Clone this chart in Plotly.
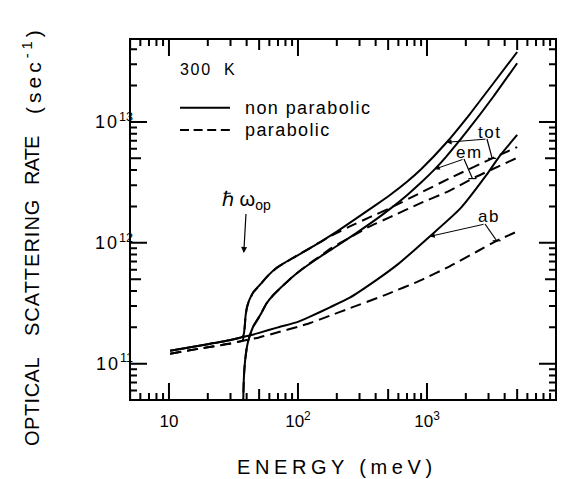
import numpy as np
import plotly.graph_objects as go

# ---------------- data (E in meV, rate in 1/s) ----------------
HW_OP = 38.0  # optical phonon energy (meV)

# non-parabolic band (solid)
np_tot_E = [10.2, 20, 30, 35.5, 37.3, 38.0, 38.6, 39.2, 40.0, 41.0, 42.4, 45, 50.7, 58, 68, 80, 98,
            125, 150, 200, 285, 400, 520, 700, 900, 1400, 2150, 3250, 5000]
np_tot_R = [1.28e11, 1.45e11, 1.57e11, 1.64e11, 1.67e11, 1.75e11, 2.0e11, 2.45e11, 2.85e11, 3.15e11,
            3.45e11, 3.9e11, 4.5e11, 5.3e11, 6.2e11, 6.9e11, 7.8e11, 9.1e11, 1.02e12, 1.24e12,
            1.6e12, 2.05e12, 2.5e12, 3.2e12, 4.06e12, 6.66e12, 1.163e13, 2.07e13, 3.79e13]

np_em_E = [37.3, 37.8, 38.2, 39, 40, 41, 42.4, 45, 50.7, 57, 64.4, 77, 92, 116, 157, 200, 285, 400,
           517, 700, 900, 1150, 1400, 2030, 3265, 5000]
np_em_R = [3.0e10, 6.0e10, 8.2e10, 1.08e11, 1.33e11, 1.52e11, 1.72e11, 2.03e11, 2.5e11, 3.15e11,
           3.7e11, 4.45e11, 5.3e11, 6.4e11, 7.98e11, 9.41e11, 1.21e12, 1.555e12, 1.91e12, 2.48e12,
           3.15e12, 4.07e12, 5.12e12, 8.3e12, 1.615e13, 3.06e13]

np_ab_E = [10.2, 20, 30, 35.5, 37.3, 42, 50, 70, 100, 124, 177, 250, 407, 600, 1050, 1800, 3000,
           3680, 5000]
np_ab_R = [1.28e11, 1.45e11, 1.57e11, 1.64e11, 1.67e11, 1.71e11, 1.8e11, 2.0e11, 2.22e11, 2.45e11,
           2.93e11, 3.5e11, 4.94e11, 6.7e11, 1.13e12, 1.91e12, 3.85e12, 5.26e12, 7.8e12]

# parabolic band (dashed)
p_tot_E = [10.2, 20, 30, 35.5, 37.3, 38.0, 38.6, 39.2, 40.0, 41.0, 42.4, 45, 50.7, 58, 68, 80, 98,
           125, 177, 250, 361, 517, 883, 1507, 3000, 5000]
p_tot_R = [1.21e11, 1.37e11, 1.47e11, 1.53e11, 1.56e11, 1.72e11, 1.98e11, 2.43e11, 2.83e11, 3.13e11,
           3.43e11, 3.88e11, 4.48e11, 5.28e11, 6.18e11, 6.9e11, 7.85e11, 9.1e11, 1.13e12, 1.36e12,
           1.63e12, 1.94e12, 2.58e12, 3.43e12, 4.84e12, 6.2e12]

p_em_E = [37.3, 37.8, 38.2, 39, 40, 41, 42.4, 45, 50.7, 57, 64.4, 77, 92, 116, 157, 177, 250, 361,
          517, 883, 1500, 2250, 5000]
p_em_R = [3.0e10, 6.0e10, 8.2e10, 1.08e11, 1.33e11, 1.52e11, 1.72e11, 2.03e11, 2.5e11, 3.15e11,
          3.7e11, 4.45e11, 5.3e11, 6.45e11, 8.1e11, 8.9e11, 1.1e12, 1.37e12, 1.63e12, 2.12e12,
          2.7e12, 3.4e12, 5.05e12]

p_ab_E = [10.2, 20, 30, 35.5, 50, 70, 100, 124, 177, 253, 488, 910, 1500, 2500, 3470, 5000]
p_ab_R = [1.21e11, 1.37e11, 1.47e11, 1.53e11, 1.65e11, 1.82e11, 2.02e11, 2.17e11, 2.5e11, 2.88e11,
          3.75e11, 4.94e11, 6.4e11, 8.6e11, 1.04e12, 1.24e12]

# tick labels
X_TICKS = [10, 100, 1000, 10000]
X_TICKTEXT = ["10", "10<sup>2</sup>", "10<sup>3</sup>", "10<sup>4</sup>"]
Y_TICKS = [1e11, 1e12, 1e13]
Y_TICKTEXT = ['<span style="letter-spacing:2px">10</span><sup>11</sup>',
              '<span style="letter-spacing:2px">10</span><sup>12</sup>',
              '<span style="letter-spacing:2px">10</span><sup>13</sup>']

# leader labels: (text, text px pos, knee px pos, solid curve, E on solid, dashed curve, E on dashed)
LEADERS = [
    ("tot", (489, 132), (487, 139), (np_tot_E, np_tot_R), 1420, (p_tot_E, p_tot_R), 3200),
    ("em", (469, 152), (464, 159), (np_em_E, np_em_R), 1150, (p_em_E, p_em_R), 2250),
    ("ab", (489, 217), (485, 224), (np_ab_E, np_ab_R), 1050, (p_ab_E, p_ab_R), 3470),
]

# ---------------- layout geometry ----------------
W, H = 569, 479
ML, MR, MT, MB = 130, 13, 39, 79
XR = [0.698, 4.0]
YR = [10.70, 13.686]
PW, PH = W - ML - MR, H - MT - MB
FONT = "Liberation Sans, Arial, Helvetica, sans-serif"
BLACK = "black"
DX = (XR[1] - XR[0]) / PW   # decades per pixel
DY = (YR[1] - YR[0]) / PH


def paper(xpx, ypx):
    return (xpx - ML) / PW, (H - MB - ypx) / PH


def px_to_axis(xpx, ypx):
    return XR[0] + (xpx - ML) * DX, YR[0] + (H - MB - ypx) * DY


def loginterp(E, R, e):
    return float(np.interp(np.log10(e), np.log10(E), np.log10(R)))


def tick_vals(lo, hi, mults, rng):
    v = [m * 10.0 ** k for k in range(lo, hi + 1) for m in mults]
    return [float(t) for t in v if rng[0] - 1e-9 <= np.log10(t) <= rng[1] + 1e-9]


fig = go.Figure()

LW = 2.0
DASH = "11px,6px"
curves = [
    (p_ab_E, p_ab_R, DASH), (p_em_E, p_em_R, DASH), (p_tot_E, p_tot_R, DASH),
    (np_ab_E, np_ab_R, "solid"), (np_em_E, np_em_R, "solid"), (np_tot_E, np_tot_R, "solid"),
]
for E, R, d in curves:
    fig.add_trace(go.Scatter(x=E, y=R, mode="lines",
                             line=dict(color=BLACK, width=LW, dash=d, shape="spline", smoothing=0.5),
                             showlegend=False, hoverinfo="skip"))

ann = []
# leaders tot / em / ab : arrow onto the solid curve, line + bar onto the dashed curve
for text, tpos, knee, solid, e_tip, dashed, e_end in LEADERS:
    tx, ty = paper(*tpos)
    ann.append(dict(xref="paper", yref="paper", x=tx, y=ty, xanchor="center", yanchor="middle",
                    showarrow=False, text='<span style="letter-spacing:1.5px">%s</span>' % text,
                    font=dict(size=17, family=FONT, color=BLACK)))
    kx, ky = px_to_axis(*knee)
    ann.append(dict(xref="x", yref="y", x=float(np.log10(e_tip)), y=loginterp(*solid, e_tip),
                    axref="x", ayref="y", ax=kx, ay=ky, text="", showarrow=True,
                    arrowhead=2, arrowsize=1, arrowwidth=1, arrowcolor=BLACK, standoff=0))
    ly = loginterp(*dashed, e_end)
    lx = float(np.log10(e_end))
    bar = 4 * DX
    fig.add_trace(go.Scatter(x=[10 ** kx, 10 ** lx, None, 10 ** (lx - bar), 10 ** (lx + bar)],
                             y=[10 ** ky, 10 ** ly, None, 10 ** ly, 10 ** ly], mode="lines",
                             line=dict(color=BLACK, width=1.2), showlegend=False,
                             hoverinfo="skip"))

shapes = []
# frame ticks drawn inward on all four sides, one path per tick class (paper coordinates
# obtained from the log scale): decades long, 5x medium, others short
for mults, tlen in [([1], 17), ([5], 11), ([2, 3, 4, 6, 7, 8, 9], 7)]:
    lx_ = tlen / PW
    ly_ = tlen / PH
    segs = []
    for t in tick_vals(0, 4, mults, XR):
        xp = (np.log10(t) - XR[0]) / (XR[1] - XR[0])
        segs.append("M%.5f,%.5fL%.5f,%.5f" % (xp, 0.0, xp, ly_))
        segs.append("M%.5f,%.5fL%.5f,%.5f" % (xp, 1.0, xp, 1 - ly_))
    for t in tick_vals(10, 13, mults, YR):
        yp = (np.log10(t) - YR[0]) / (YR[1] - YR[0])
        segs.append("M%.5f,%.5fL%.5f,%.5f" % (0.0, yp, lx_, yp))
        segs.append("M%.5f,%.5fL%.5f,%.5f" % (1.0, yp, 1 - lx_, yp))
    shapes.append(dict(type="path", xref="paper", yref="paper", path="".join(segs),
                       line=dict(color=BLACK, width=2), layer="above"))

common = dict(type="log", showgrid=False, zeroline=False, showline=False, ticks="",
              fixedrange=True)

fig.update_layout(
    width=W, height=H, template="none",
    margin=dict(l=ML, r=MR, t=MT, b=MB, pad=0, autoexpand=False),
    paper_bgcolor="white", plot_bgcolor="white", showlegend=False,
    font=dict(family=FONT, color=BLACK),
    xaxis=dict(**common, range=XR, tickmode="array", tickvals=X_TICKS, ticktext=X_TICKTEXT,
               ticklabelstandoff=9, tickfont=dict(size=17, family=FONT, color=BLACK)),
    yaxis=dict(**common, range=YR, tickmode="array", tickvals=Y_TICKS, ticktext=Y_TICKTEXT,
               ticklabelstandoff=-4, tickfont=dict(size=18, family=FONT, color=BLACK)),
)

# axis titles
px_, py_ = paper(337, 467)
ann.append(dict(xref="paper", yref="paper", x=px_, y=py_, xanchor="center", yanchor="middle",
                showarrow=False,
                text='<span style="letter-spacing:4.6px">ENERGY\u00a0(meV)</span>',
                font=dict(size=20, family=FONT, color=BLACK)))
for word, ycen, ls in [("OPTICAL", 402, 0.5), ("SCATTERING", 268, 1.0), ("RATE", 161, -0.8),
                       ("(sec<sup>-1</sup>)", 70, 4.0)]:
    px_, py_ = paper(32, ycen)
    ann.append(dict(xref="paper", yref="paper", x=px_, y=py_, xanchor="center", yanchor="middle",
                    showarrow=False, textangle=-90,
                    text='<span style="letter-spacing:%gpx">%s</span>' % (ls, word),
                    font=dict(size=21 if ls > 3 else 20, family=FONT, color=BLACK)))
# 300 K
px_, py_ = paper(208, 69)
ann.append(dict(xref="paper", yref="paper", x=px_, y=py_, xanchor="center", yanchor="middle",
                showarrow=False, text='<span style="letter-spacing:1.7px">300\u00a0\u00a0K</span>',
                font=dict(size=16, family=FONT, color=BLACK)))
# legend texts
for label, ypx in [("non\u00a0parabolic", 107.7), ("parabolic", 130)]:
    px_, py_ = paper(243, ypx)
    ann.append(dict(xref="paper", yref="paper", x=px_, y=py_, xanchor="left", yanchor="middle",
                    showarrow=False, text='<span style="letter-spacing:1.4px">%s</span>' % label,
                    font=dict(size=18, family=FONT, color=BLACK)))
# hbar omega_op arrow
_, py_tip = paper(0, 253)
ann.append(dict(xref="x", yref="paper", x=float(np.log10(HW_OP)), y=py_tip, ax=3, ay=-53,
                text="\u210f\u00a0\u03c9<sub>op</sub>", showarrow=True, arrowhead=2,
                arrowsize=1, arrowwidth=1.2, arrowcolor=BLACK, standoff=0,
                font=dict(size=20, family=FONT, color=BLACK)))

# plot frame
shapes.append(dict(type="rect", xref="paper", yref="paper", x0=0, x1=1, y0=0, y1=1,
                   line=dict(color=BLACK, width=2), layer="above"))
# legend line samples
x0p, y1p = paper(180, 107.7)
x1p, _ = paper(230, 107.7)
shapes.append(dict(type="line", xref="paper", yref="paper", x0=x0p, x1=x1p, y0=y1p, y1=y1p,
                   line=dict(color=BLACK, width=LW)))
_, y2p = paper(0, 130)
shapes.append(dict(type="line", xref="paper", yref="paper", x0=x0p, x1=x1p, y0=y2p, y1=y2p,
                   line=dict(color=BLACK, width=LW, dash="9px,4.6px")))

fig.update_layout(annotations=ann, shapes=shapes)
fig.write_html("out.html", config={"displayModeBar": False, "staticPlot": True},
               post_script="document.body.style.margin='0';document.body.style.overflow='hidden';")
